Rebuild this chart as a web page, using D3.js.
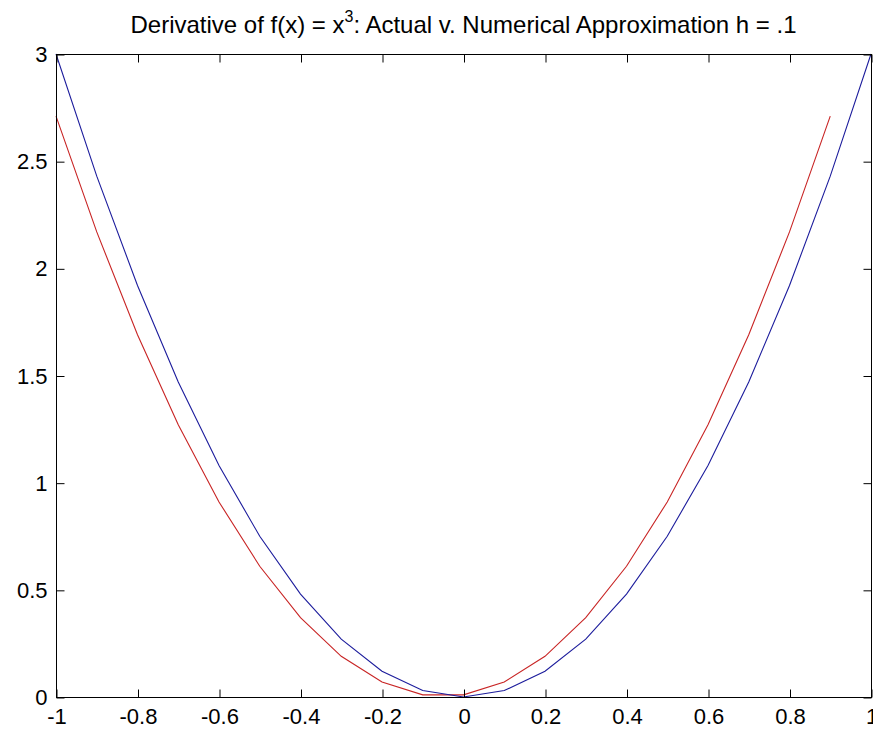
<!DOCTYPE html>
<html>
<head>
<meta charset="utf-8">
<script src="https://cdn.jsdelivr.net/npm/d3@7"></script>
<style>
  html, body { margin: 0; padding: 0; background: #fff; }
  svg { display: block; }
  text { font-family: "Liberation Sans", Arial, sans-serif; fill: #000; }
</style>
</head>
<body>
<svg id="chart" width="873" height="729"></svg>
<script>
// ---- data ----
const xActual = [-1, -0.9, -0.8, -0.7, -0.6, -0.5, -0.4, -0.3, -0.2, -0.1, 0, 0.1, 0.2, 0.3, 0.4, 0.5, 0.6, 0.7, 0.8, 0.9, 1];
const yActual = [3, 2.43, 1.92, 1.47, 1.08, 0.75, 0.48, 0.27, 0.12, 0.03, 0, 0.03, 0.12, 0.27, 0.48, 0.75, 1.08, 1.47, 1.92, 2.43, 3];
const xApprox = [-1, -0.9, -0.8, -0.7, -0.6, -0.5, -0.4, -0.3, -0.2, -0.1, 0, 0.1, 0.2, 0.3, 0.4, 0.5, 0.6, 0.7, 0.8, 0.9];
const yApprox = [2.71, 2.17, 1.69, 1.27, 0.91, 0.61, 0.37, 0.19, 0.07, 0.01, 0.01, 0.07, 0.19, 0.37, 0.61, 0.91, 1.27, 1.69, 2.17, 2.71];
const xTicks = [-1, -0.8, -0.6, -0.4, -0.2, 0, 0.2, 0.4, 0.6, 0.8, 1];
const xTickLabels = ["-1", "-0.8", "-0.6", "-0.4", "-0.2", "0", "0.2", "0.4", "0.6", "0.8", "1"];
const yTicks = [0, 0.5, 1, 1.5, 2, 2.5, 3];
const yTickLabels = ["0", "0.5", "1", "1.5", "2", "2.5", "3"];
const titleMain = "Derivative of f(x) = x";
const titleSup = "3";
const titleRest = ": Actual v. Numerical Approximation h = .1";

// ---- layout ----
const L = 56, R = 871, T = 54, B = 697;
const tickLen = 8;
const svg = d3.select("#chart");

const x = d3.scaleLinear().domain([-1, 1]).range([L, R]);
const y = d3.scaleLinear().domain([0, 3]).range([B, T]);

// lines
const lineGen = d3.line().x(d => x(d[0])).y(d => y(d[1]));
const actual = xActual.map((v, i) => [v, yActual[i]]);
const approx = xApprox.map((v, i) => [v, yApprox[i]]);

svg.append("path").datum(approx)
  .attr("d", lineGen).attr("fill", "none")
  .attr("stroke", "#c82424").attr("stroke-width", 1.1);
svg.append("path").datum(actual)
  .attr("d", lineGen).attr("fill", "none")
  .attr("stroke", "#1c1c9c").attr("stroke-width", 1.1);

// box
svg.append("rect")
  .attr("x", L + 0.5).attr("y", T + 0.5)
  .attr("width", R - L).attr("height", B - T)
  .attr("fill", "none").attr("stroke", "#000").attr("stroke-width", 1);

// axes (ticks inward, on all four sides)
const xb = svg.append("g").attr("transform", `translate(0.5,${B + 0.5})`)
  .call(d3.axisBottom(x).tickValues(xTicks).tickSizeInner(-tickLen).tickSizeOuter(0)
    .tickFormat((d, i) => xTickLabels[i]).tickPadding(11));
const xt = svg.append("g").attr("transform", `translate(0.5,${T + 0.5})`)
  .call(d3.axisTop(x).tickValues(xTicks).tickSizeInner(-tickLen).tickSizeOuter(0).tickFormat(""));
const yl = svg.append("g").attr("transform", `translate(${L + 0.5},0.5)`)
  .call(d3.axisLeft(y).tickValues(yTicks).tickSizeInner(-tickLen).tickSizeOuter(0)
    .tickFormat((d, i) => yTickLabels[i]).tickPadding(9));
const yr = svg.append("g").attr("transform", `translate(${R + 0.5},0.5)`)
  .call(d3.axisRight(y).tickValues(yTicks).tickSizeInner(-tickLen).tickSizeOuter(0).tickFormat(""));

[xb, xt, yl, yr].forEach(g => {
  g.select(".domain").remove();
  g.selectAll(".tick line").attr("stroke", "#000");
  g.selectAll("text").style("font-family", "'Liberation Sans', Arial, sans-serif")
    .style("font-size", "22px").attr("fill", "#1a1a1a");
});
xb.selectAll("text").attr("dy", "0.71em");

// title
const title = svg.append("text")
  .attr("x", (L + R) / 2).attr("y", 33)
  .attr("text-anchor", "middle")
  .attr("fill", "#1a1a1a")
  .style("font-size", "24px");
title.append("tspan").text(titleMain);
title.append("tspan").text(titleSup).attr("dy", -11).style("font-size", "16px");
title.append("tspan").text(titleRest).attr("dy", 11);
</script>
</body>
</html>
